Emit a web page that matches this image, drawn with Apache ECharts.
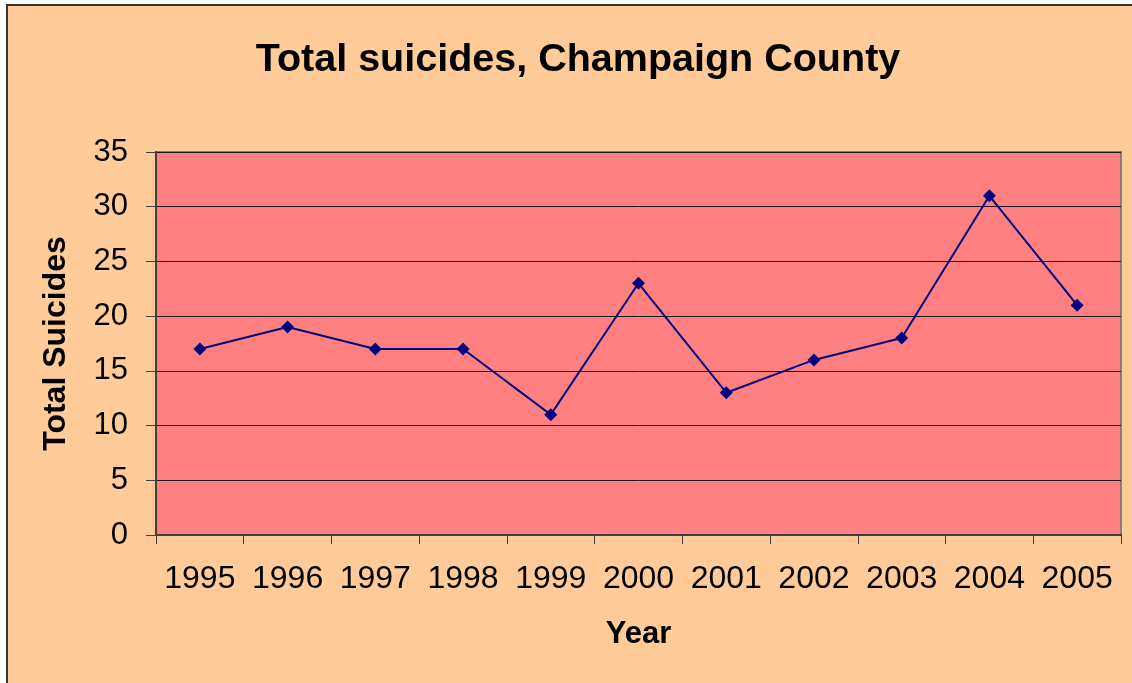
<!DOCTYPE html>
<html>
<head>
<meta charset="utf-8">
<script src="https://cdn.jsdelivr.net/npm/echarts@6/dist/echarts.min.js"></script>
<style>
  html, body { margin: 0; padding: 0; background: #ffffff; }
  #chart { width: 1132px; height: 683px; }
</style>
</head>
<body>
<div id="chart"></div>
<script>
// data
const years = ['1995', '1996', '1997', '1998', '1999', '2000', '2001', '2002', '2003', '2004', '2005'];
const suicides = [17, 19, 17, 17, 11, 23, 13, 16, 18, 31, 21];

const font = '"Liberation Sans", Arial, sans-serif';

const chart = echarts.init(document.getElementById('chart'));

chart.setOption({
  backgroundColor: '#ffffff',
  animation: false,
  graphic: [
    {
      type: 'rect',
      z: -10,
      shape: { x: 7, y: 5, width: 1200, height: 800 },
      style: { fill: '#FFCC99', stroke: '#333333', lineWidth: 2 }
    }
  ],
  title: {
    text: 'Total suicides, Champaign County',
    left: 573,
    top: 35,
    textAlign: 'center',
    textStyle: { fontFamily: font, fontSize: 39.5, fontWeight: 'bold', color: '#000' }
  },
  grid: {
    left: 156,
    top: 152,
    right: 11,
    bottom: 148,
    show: true,
    backgroundColor: '#FF8080',
    borderColor: '#808080',
    borderWidth: 2
  },
  xAxis: {
    type: 'category',
    data: years,
    boundaryGap: true,
    name: 'Year',
    nameLocation: 'middle',
    nameGap: 84,
    nameTextStyle: { fontFamily: font, fontSize: 31, fontWeight: 'bold', color: '#000' },
    axisLine: { lineStyle: { color: '#404040', width: 2 } },
    axisTick: { show: true, length: 9, alignWithLabel: false, lineStyle: { color: '#404040', width: 1 } },
    axisLabel: { fontFamily: font, fontSize: 32, color: '#000', margin: 28, interval: 0 },
    splitLine: { show: false }
  },
  yAxis: {
    type: 'value',
    min: 0,
    max: 35,
    interval: 5,
    name: 'Total Suicides',
    nameLocation: 'middle',
    nameGap: 84,
    nameTextStyle: { fontFamily: font, fontSize: 32, fontWeight: 'bold', color: '#000' },
    axisLine: { show: true, lineStyle: { color: '#404040', width: 2 } },
    axisTick: { show: true, length: 10, lineStyle: { color: '#404040', width: 1 } },
    axisLabel: { fontFamily: font, fontSize: 31, color: '#000', margin: 28 },
    splitLine: { show: true, lineStyle: { color: '#1a1a1a', width: 1 } }
  },
  series: [
    {
      type: 'line',
      data: suicides,
      symbol: 'diamond',
      symbolSize: 13,
      lineStyle: { color: '#000080', width: 2 },
      itemStyle: { color: '#000080' }
    }
  ]
});
</script>
</body>
</html>
